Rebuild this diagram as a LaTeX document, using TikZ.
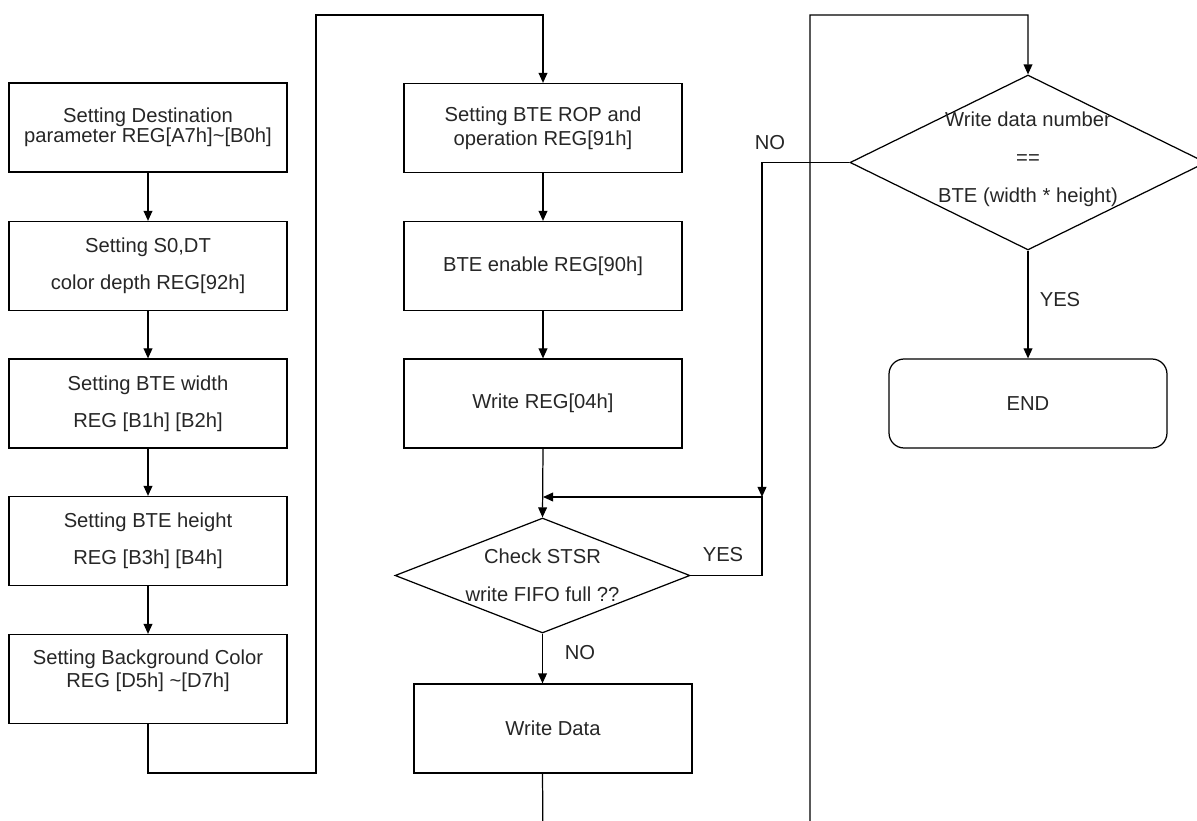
\documentclass[tikz,border=0pt]{standalone}
\usepackage{fontspec}
\setmainfont{Liberation Sans}
\usetikzlibrary{shapes.geometric,arrows.meta}

\begin{document}
\begin{tikzpicture}[x=0.02cm, y=-0.02cm,
		every node/.style={font=\fontsize{11.5}{11.5}\selectfont, text=black!85},
		box/.style={draw, line width=0.7pt, minimum width=5.56cm, minimum height=1.78cm, align=center, inner sep=0pt},
		decision/.style={diamond, draw, line width=0.7pt, inner sep=0pt},
		arr/.style={line width=0.7pt, -{Triangle[length=5.7pt,width=5pt]}}]
	\clip (0,0) rectangle (1197,821);
	
	% Left column
	\node[box] (b1) at (148,127.5) {Setting Destination\\parameter REG[A7h]\textasciitilde[B0h]};
	\node[box] (b2) at (148,266) {Setting S0,DT\\[9.5pt]color depth REG[92h]};
	\node[box] (b3) at (148,403.5) {Setting BTE width\\[9.5pt]REG [B1h] [B2h]};
	\node[box] (b4) at (148,541) {Setting BTE height\\[9.5pt]REG [B3h] [B4h]};
	\node[box] (b5) at (148,679) {Setting Background Color\\[1.6pt]REG [D5h] \textasciitilde[D7h]\\\mbox{}};
	\draw[arr] (b1) -- (b2);
	\draw[arr] (b2) -- (b3);
	\draw[arr] (b3) -- (b4);
	\draw[arr] (b4) -- (b5);
	
	% Middle column
	\node[box] (m1) at (543,128) {Setting BTE ROP and\\[2.2pt]operation REG[91h]};
	\node[box] (m2) at (543,266) {BTE enable REG[90h]};
	\node[box] (m3) at (543,403.5) {Write REG[04h]};
	\node[decision, minimum width=5.9cm, minimum height=2.3cm] (d1) at (542.5,575.5) {};
	\node[align=center] (d1txt) at (d1.center) {Check STSR\\[10pt]write FIFO full ??};
	\node[box] (wd) at (553,728.5) {Write Data};
	\coordinate (j) at (543,497);
	\coordinate (k) at (762,497);
	\draw[arr] (b5.south) -- (148,773) -- (316,773) -- (316,15) -- (543,15) -- (m1.north);
	\draw[arr] (m1) -- (m2);
	\draw[arr] (m2) -- (m3);
	\draw[arr] (m3.south) -- (d1.north);
	\draw[arr] (d1.east) -| (k) -- (j);
	\node (yes1) at (723,555) {YES};
	\draw[arr] (d1.south) -- (d1.south |- wd.north);
	\node (no1) at (580,653) {NO};
	
	% Right column
	\node[decision, minimum width=7.12cm, minimum height=3.5cm] (d2) at (1028,162.5) {};
	\node[align=center] (d2txt) at (1028,159.5) {Write data number\\[10pt]==\\[10pt]BTE (width * height)};
	\node[box, rounded corners=0.3cm] (fin) at (1028,403.5) {END};
	\draw[arr] (wd.south -| d1.south) -- (543,840) -- (810,840) -- (810,15) -- (1028,15) -- (d2.north);
	\draw[arr] (d2.west) -| (k);
	\node (no2) at (770,143) {NO};
	\draw[arr] (d2.south) -- (fin.north);
	\node (yes2) at (1060,300) {YES};
\end{tikzpicture}
\end{document}
